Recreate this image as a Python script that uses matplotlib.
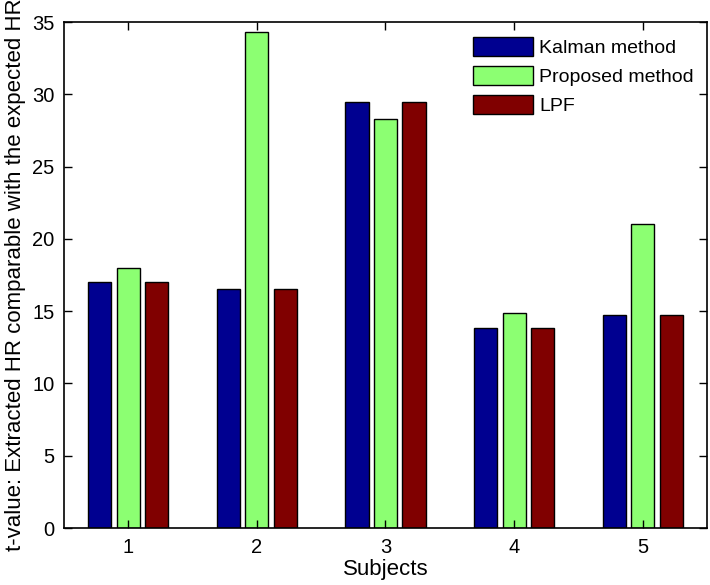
import numpy as np
import matplotlib.pyplot as plt

plt.rcParams['font.family'] = ['Liberation Sans', 'DejaVu Sans']

# -------------------------------
# Data
# -------------------------------
subjects = [1, 2, 3, 4, 5]
kalman = [17.05, 16.55, 29.45, 13.8, 14.7]
proposed = [18.0, 34.3, 28.3, 14.85, 21.05]
lpf = [17.05, 16.55, 29.45, 13.8, 14.7]

series_names = ['Kalman method', 'Proposed method', 'LPF']
colors = ['#000090', '#8cff72', '#800000']

# -------------------------------
# Plot
# -------------------------------
fig = plt.figure(figsize=(7.1, 5.85), dpi=100)
ax = fig.add_axes([64 / 710, 1 - 528 / 585, (707 - 64) / 710, (528 - 22) / 585])

x = np.array(subjects)
width = 0.18
offset = 0.222
for i, (vals, name, c) in enumerate(zip([kalman, proposed, lpf], series_names, colors)):
    ax.bar(x + (i - 1) * offset, vals, width, color=c, edgecolor='black',
           linewidth=1.0, label=name)

ax.set_xlim(0.5, 5.5)
ax.set_ylim(0, 35)
ax.set_xticks(subjects)
ax.set_yticks(np.arange(0, 36, 5))
ax.tick_params(direction='in', top=True, right=True, length=6, width=1,
               labelsize=14.5, pad=7)
for s in ax.spines.values():
    s.set_linewidth(1.2)

ax.set_xlabel('Subjects', fontsize=16, labelpad=2)
ax.set_ylabel('t-value: Extracted HR comparable with the expected HR',
              fontsize=16, labelpad=4)

leg = fig.legend(loc='upper left', bbox_to_anchor=(473 / 710, 1 - 37 / 585),
                 fontsize=14, frameon=True, fancybox=False, edgecolor='white',
                 handlelength=3.1, handleheight=1.15, handletextpad=0.3,
                 labelspacing=0.45, borderpad=0.0, borderaxespad=0.0)
leg.get_frame().set_facecolor('white')
leg.get_frame().set_alpha(1.0)

plt.savefig('out.png', dpi=100)
